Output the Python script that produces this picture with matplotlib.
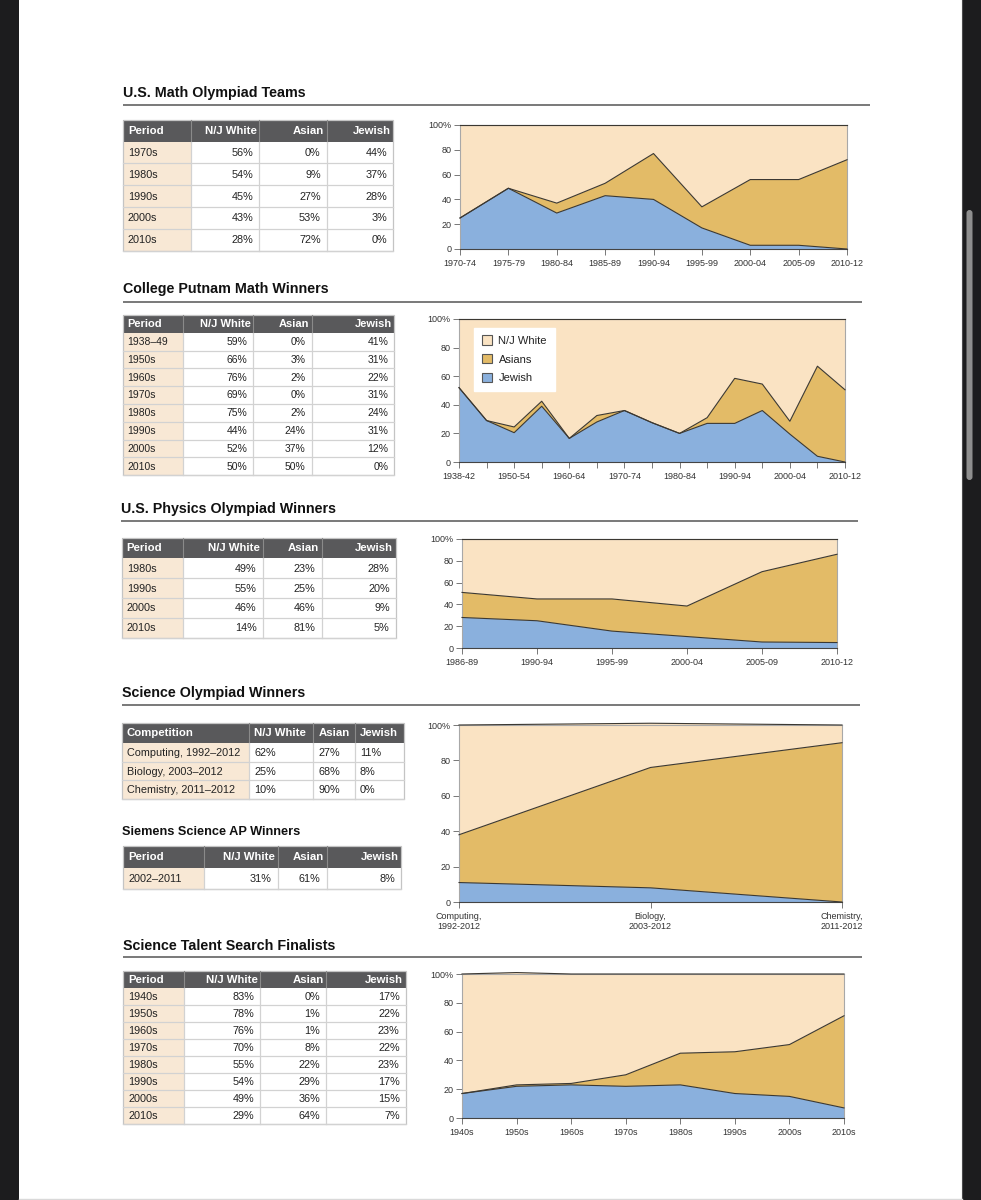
#!/usr/bin/env python3
"""
Recreate the "achievement by ethnicity" page: five tables with stacked area charts.
Output: out.png (981x1200).
"""

import numpy as np
import matplotlib
matplotlib.use('Agg')
import matplotlib.pyplot as plt
from matplotlib.patches import Rectangle, FancyBboxPatch, Patch

# ---------------------------------------------------------------------------
# Style constants
# ---------------------------------------------------------------------------
W, H        = 981, 1200
FONT        = 'Liberation Sans'
WHITE_FILL  = '#FAE3C3'
ASIAN_FILL  = '#E3BB67'
JEWISH_FILL = '#8AB0DD'
EDGE        = '#3b3832'
HEAD_BG     = '#59595b'
PERIOD_BG   = '#F8E8D5'
CELL_LINE   = '#d2d2d2'
TXT         = '#222222'
FRAME       = '#1c1c1e'

plt.rcParams['font.family'] = [FONT, 'DejaVu Sans']

# ---------------------------------------------------------------------------
# Data
# ---------------------------------------------------------------------------
COLS = ['Period', 'N/J White', 'Asian', 'Jewish']

# U.S. Math Olympiad Teams
IMO_PERIODS = ['1970s', '1980s', '1990s', '2000s', '2010s']
IMO_WHITE   = [56, 54, 45, 43, 28]
IMO_ASIAN   = [0, 9, 27, 53, 72]
IMO_JEWISH  = [44, 37, 28, 3, 0]

IMO_CHART_X      = ['1970-74', '1975-79', '1980-84', '1985-89', '1990-94',
                    '1995-99', '2000-04', '2005-09', '2010-12']
IMO_CHART_JEWISH = [25, 49, 29, 43, 40, 17, 3, 3, 0]
IMO_CHART_ASIAN  = [0, 0, 8, 10, 37, 17, 53, 53, 72]
IMO_CHART_WHITE  = [75, 51, 63, 47, 23, 66, 44, 44, 28]

# College Putnam Math Winners
PUT_PERIODS = ['1938\u201349', '1950s', '1960s', '1970s', '1980s', '1990s', '2000s', '2010s']
PUT_WHITE   = [59, 66, 76, 69, 75, 44, 52, 50]
PUT_ASIAN   = [0, 3, 2, 0, 2, 24, 37, 50]
PUT_JEWISH  = [41, 31, 22, 31, 24, 31, 12, 0]

PUT_CHART_X      = ['1938-42', '', '1950-54', '', '1960-64', '', '1970-74', '',
                    '1980-84', '', '1990-94', '', '2000-04', '', '2010-12']
PUT_CHART_JEWISH = [52, 29, 20.5, 39, 16.5, 28, 36, 27.5, 20, 27, 27, 36, 19.5, 4, 0]
PUT_CHART_ASIAN  = [0, 0, 4, 3.5, 0, 4.5, 0, 0, 0, 4, 31.5, 18.5, 9, 63, 50.5]
PUT_CHART_WHITE  = [48, 71, 75.5, 57.5, 83.5, 67.5, 64, 72.5, 80, 69, 41.5, 45.5, 71.5, 33, 49.5]

# U.S. Physics Olympiad Winners
PHY_PERIODS = ['1980s', '1990s', '2000s', '2010s']
PHY_WHITE   = [49, 55, 46, 14]
PHY_ASIAN   = [23, 25, 46, 81]
PHY_JEWISH  = [28, 20, 9, 5]

PHY_CHART_X      = ['1986-89', '1990-94', '1995-99', '2000-04', '2005-09', '2010-12']
PHY_CHART_JEWISH = [28, 25, 15.5, 10.5, 5.5, 5]
PHY_CHART_ASIAN  = [23, 20, 29.5, 28, 64.5, 81]
PHY_CHART_WHITE  = [49, 55, 55, 61.5, 30, 14]

# Science Olympiad Winners (table values also drive the chart)
SCI_COMPS   = ['Computing, 1992\u20132012', 'Biology, 2003\u20132012', 'Chemistry, 2011\u20132012']
SCI_WHITE   = [62, 25, 10]
SCI_ASIAN   = [27, 68, 90]
SCI_JEWISH  = [11, 8, 0]
SCI_CHART_X = ['Computing,\n1992-2012', 'Biology,\n2003-2012', 'Chemistry,\n2011-2012']

# Siemens Science AP Winners
SIE_PERIODS = ['2002\u20132011']
SIE_WHITE   = [31]
SIE_ASIAN   = [61]
SIE_JEWISH  = [8]

# Science Talent Search Finalists (table values also drive the chart)
STS_PERIODS = ['1940s', '1950s', '1960s', '1970s', '1980s', '1990s', '2000s', '2010s']
STS_WHITE   = [83, 78, 76, 70, 55, 54, 49, 29]
STS_ASIAN   = [0, 1, 1, 8, 22, 29, 36, 64]
STS_JEWISH  = [17, 22, 23, 22, 23, 17, 15, 7]

# ---------------------------------------------------------------------------
# Figure + page backdrop (pixel coordinates, y down)
# ---------------------------------------------------------------------------
fig = plt.figure(figsize=(W / 100, H / 100), dpi=100)
fig.patch.set_facecolor('white')
bg = fig.add_axes([0, 0, 1, 1])
bg.set_xlim(0, W)
bg.set_ylim(H, 0)
bg.axis('off')

bg.add_patch(Rectangle((0, 0), 19, H, facecolor=FRAME, edgecolor='none'))
bg.add_patch(Rectangle((962, 0), W - 962, H, facecolor=FRAME, edgecolor='none'))
bg.plot([962, 962], [0, H], color='#4a4a4c', lw=0.8)
bg.add_patch(FancyBboxPatch((966.5, 210), 6, 270, boxstyle='round,pad=0,rounding_size=3',
                            facecolor='#8e8e8e', edgecolor='none'))
bg.plot([19, 962], [1198.5, 1198.5], color='#d9d9d9', lw=1)


def pct(v):
    return f'{v}%'


def section_title(x, y, text, rule_y=None, rule_x1=862, size=10.3):
    bg.text(x, y, text, fontsize=size, fontweight='bold', color='#111111',
            ha='left', va='center')
    if rule_y is not None:
        bg.plot([x, rule_x1], [rule_y, rule_y], color='#6e6e6e', lw=1.3,
                solid_capstyle='butt')


def draw_table(x_edges, y_top, head_h, row_h, header, rows, align_left_all=False,
               fs=7.8, head_fs=8.2):
    x0, x1 = x_edges[0], x_edges[-1]
    n = len(rows)
    y_bot = y_top + head_h + n * row_h
    # header band
    bg.add_patch(Rectangle((x0, y_top), x1 - x0, head_h, facecolor=HEAD_BG,
                           edgecolor='none'))
    for j in range(1, len(x_edges) - 1):
        bg.plot([x_edges[j], x_edges[j]], [y_top, y_top + head_h],
                color='#8a8a8a', lw=0.8)
    for j, lab in enumerate(header):
        if j == 0 or align_left_all:
            bg.text(x_edges[j] + 5, y_top + head_h / 2, lab, fontsize=head_fs,
                    fontweight='bold', color='white', ha='left', va='center')
        else:
            bg.text(x_edges[j + 1] - 2.5, y_top + head_h / 2, lab, fontsize=head_fs,
                    fontweight='bold', color='white', ha='right', va='center')
    # body
    for i, row in enumerate(rows):
        ry = y_top + head_h + i * row_h
        bg.add_patch(Rectangle((x0, ry), x_edges[1] - x0, row_h,
                               facecolor=PERIOD_BG, edgecolor='none'))
        for j, val in enumerate(row):
            cy = ry + row_h / 2 + 0.5
            if j == 0 or align_left_all:
                bg.text(x_edges[j] + 5, cy, val, fontsize=fs, color=TXT,
                        ha='left', va='center')
            else:
                bg.text(x_edges[j + 1] - 6, cy, val, fontsize=fs, color=TXT,
                        ha='right', va='center')
        bg.plot([x0, x1], [ry + row_h, ry + row_h], color=CELL_LINE, lw=0.9)
    for j in range(1, len(x_edges) - 1):
        bg.plot([x_edges[j], x_edges[j]], [y_top + head_h, y_bot],
                color=CELL_LINE, lw=0.9)
    bg.add_patch(Rectangle((x0, y_top), x1 - x0, y_bot - y_top, facecolor='none',
                           edgecolor='#c4c4c4', lw=0.9))


def table_rows(labels, white, asian, jewish):
    return [[lab, pct(w), pct(a), pct(j)]
            for lab, w, a, j in zip(labels, white, asian, jewish)]


def draw_area(rect_px, labels, jewish, asian, white, label_fs=6.5):
    x0, y0, x1, y1 = rect_px
    ax = fig.add_axes([x0 / W, 1 - y1 / H, (x1 - x0) / W, (y1 - y0) / H])
    ax.set_facecolor('none')
    x = np.arange(len(labels))
    polys = ax.stackplot(x, jewish, asian, white,
                         colors=[JEWISH_FILL, ASIAN_FILL, WHITE_FILL], linewidth=0)
    for p in polys:
        p.set_clip_on(False)
    cum = np.cumsum(np.array([jewish, asian, white], dtype=float), axis=0)
    for c in cum:
        ax.plot(x, c, color=EDGE, lw=0.8, clip_on=False, zorder=3)
    ax.set_xlim(0, len(labels) - 1)
    ax.set_ylim(0, 100)
    ax.set_yticks([0, 20, 40, 60, 80, 100])
    ax.set_yticklabels(['0', '20', '40', '60', '80', '100%'])
    ax.set_xticks(x)
    ax.set_xticklabels(labels)
    ax.tick_params(axis='both', labelsize=label_fs, labelcolor='#333333',
                   color='#777777', width=0.7, direction='out')
    ax.tick_params(axis='y', length=4, pad=2)
    ax.tick_params(axis='x', length=4.5, pad=2.5)
    for side in ('left', 'right', 'top'):
        ax.spines[side].set_color('#a8a8a8')
        ax.spines[side].set_linewidth(0.8)
    ax.spines['bottom'].set_color('#444444')
    ax.spines['bottom'].set_linewidth(0.8)
    return ax


# ---------------------------------------------------------------------------
# Section 1: U.S. Math Olympiad Teams
# ---------------------------------------------------------------------------
section_title(123, 93, 'U.S. Math Olympiad Teams', rule_y=105, rule_x1=870)
draw_table([123, 190.7, 259, 326.7, 393], 119.5, 22, 21.8, COLS,
           table_rows(IMO_PERIODS, IMO_WHITE, IMO_ASIAN, IMO_JEWISH))
draw_area((460, 125, 847, 249), IMO_CHART_X,
          IMO_CHART_JEWISH, IMO_CHART_ASIAN, IMO_CHART_WHITE)

# ---------------------------------------------------------------------------
# Section 2: College Putnam Math Winners
# ---------------------------------------------------------------------------
section_title(122.7, 289, 'College Putnam Math Winners', rule_y=301.5, rule_x1=862)
draw_table([122.7, 182.7, 253.3, 311.7, 394.3], 315, 17.7, 17.8, COLS,
           table_rows(PUT_PERIODS, PUT_WHITE, PUT_ASIAN, PUT_JEWISH),
           fs=7.5, head_fs=8)
ax_put = draw_area((459, 319, 845, 462), PUT_CHART_X,
                   PUT_CHART_JEWISH, PUT_CHART_ASIAN, PUT_CHART_WHITE)
handles = [Patch(facecolor=WHITE_FILL, edgecolor='#555555', lw=0.8, label='N/J White'),
           Patch(facecolor=ASIAN_FILL, edgecolor='#555555', lw=0.8, label='Asians'),
           Patch(facecolor=JEWISH_FILL, edgecolor='#555555', lw=0.8, label='Jewish')]
leg = ax_put.legend(handles=handles, loc='upper left', bbox_to_anchor=(0.039, 0.94),
                    fontsize=8, frameon=True, fancybox=False, framealpha=1,
                    handlelength=0.9, handleheight=0.9, handletextpad=0.6,
                    labelspacing=0.75, borderpad=0.7, borderaxespad=0)
leg.get_frame().set_edgecolor('white')
leg.get_frame().set_facecolor('white')
for t in leg.get_texts():
    t.set_color(TXT)

# ---------------------------------------------------------------------------
# Section 3: U.S. Physics Olympiad Winners
# ---------------------------------------------------------------------------
section_title(120.7, 509, 'U.S. Physics Olympiad Winners', rule_y=521, rule_x1=858)
draw_table([121.7, 183.3, 262.7, 321.7, 395.7], 537.7, 20.6, 19.85, COLS,
           table_rows(PHY_PERIODS, PHY_WHITE, PHY_ASIAN, PHY_JEWISH))
draw_area((462, 539, 837, 648), PHY_CHART_X,
          PHY_CHART_JEWISH, PHY_CHART_ASIAN, PHY_CHART_WHITE)

# ---------------------------------------------------------------------------
# Section 4: Science Olympiad Winners + Siemens Science AP Winners
# ---------------------------------------------------------------------------
section_title(121.7, 693, 'Science Olympiad Winners', rule_y=705, rule_x1=860)
draw_table([121.7, 249.3, 313.3, 355, 404.3], 723.3, 19.4, 18.9,
           ['Competition', 'N/J White', 'Asian', 'Jewish'],
           table_rows(SCI_COMPS, SCI_WHITE, SCI_ASIAN, SCI_JEWISH),
           align_left_all=True)

section_title(121.7, 832, 'Siemens Science AP Winners', size=9.2)
draw_table([123.3, 204.3, 277.7, 326.7, 401], 845.7, 22, 21.3, COLS,
           table_rows(SIE_PERIODS, SIE_WHITE, SIE_ASIAN, SIE_JEWISH))

draw_area((459, 725, 842, 902), SCI_CHART_X, SCI_JEWISH, SCI_ASIAN, SCI_WHITE)

# ---------------------------------------------------------------------------
# Section 5: Science Talent Search Finalists
# ---------------------------------------------------------------------------
section_title(123.3, 946, 'Science Talent Search Finalists', rule_y=957, rule_x1=862)
draw_table([123.3, 184.3, 260, 326, 405.7], 971, 17.3, 16.9, COLS,
           table_rows(STS_PERIODS, STS_WHITE, STS_ASIAN, STS_JEWISH),
           fs=7.8, head_fs=8.2)
draw_area((462, 974, 844, 1118), STS_PERIODS, STS_JEWISH, STS_ASIAN, STS_WHITE)

fig.savefig('out.png', dpi=100, facecolor='white')
plt.close(fig)
